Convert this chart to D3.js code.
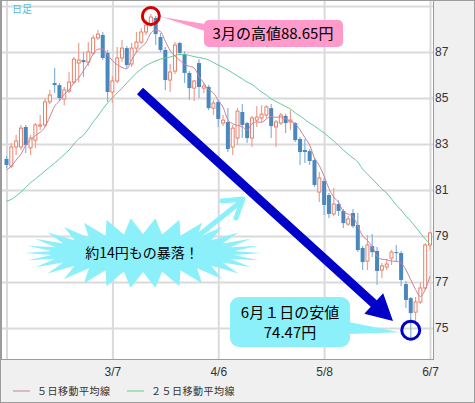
<!DOCTYPE html>
<html><head><meta charset="utf-8">
<script src="https://cdn.jsdelivr.net/npm/d3@7"></script>
<style>
html,body{margin:0;padding:0;background:#fff;}
svg{display:block;}
</style></head><body>
<svg id="chart" width="475" height="403"></svg>
<script>
// AUD/JPY daily candles, Feb 6 – Jun 7 2012
const dates = [
 "2012-02-06","2012-02-07","2012-02-08","2012-02-09","2012-02-10",
 "2012-02-13","2012-02-14","2012-02-15","2012-02-16","2012-02-17",
 "2012-02-20","2012-02-21","2012-02-22","2012-02-23","2012-02-24",
 "2012-02-27","2012-02-28","2012-02-29","2012-03-01","2012-03-02",
 "2012-03-05","2012-03-06","2012-03-07","2012-03-08","2012-03-09",
 "2012-03-12","2012-03-13","2012-03-14","2012-03-15","2012-03-16",
 "2012-03-19","2012-03-20","2012-03-21","2012-03-22","2012-03-23",
 "2012-03-26","2012-03-27","2012-03-28","2012-03-29","2012-03-30",
 "2012-04-02","2012-04-03","2012-04-04","2012-04-05","2012-04-06",
 "2012-04-09","2012-04-10","2012-04-11","2012-04-12","2012-04-13",
 "2012-04-16","2012-04-17","2012-04-18","2012-04-19","2012-04-20",
 "2012-04-23","2012-04-24","2012-04-25","2012-04-26","2012-04-27",
 "2012-04-30","2012-05-01","2012-05-02","2012-05-03","2012-05-04",
 "2012-05-07","2012-05-08","2012-05-09","2012-05-10","2012-05-11",
 "2012-05-14","2012-05-15","2012-05-16","2012-05-17","2012-05-18",
 "2012-05-21","2012-05-22","2012-05-23","2012-05-24","2012-05-25",
 "2012-05-28","2012-05-29","2012-05-30","2012-05-31","2012-06-01",
 "2012-06-04","2012-06-05","2012-06-06","2012-06-07"
];
const opens = [
 82.35,82.04,82.87,82.87,83.74,82.83,83.17,83.78,83.83,84.83,
 85.65,85.56,84.96,85.30,85.69,86.52,86.65,86.56,86.96,87.61,
 87.74,86.96,85.26,85.74,86.74,87.17,86.48,87.17,87.43,87.87,
 88.17,88.48,87.65,87.09,85.78,86.17,87.39,86.91,86.09,85.43,
 86.52,85.43,85.48,84.56,84.83,83.91,83.96,82.87,83.26,84.39,
 83.91,83.26,84.04,84.13,84.26,84.56,83.74,83.91,84.22,83.96,
 83.91,83.22,82.74,82.69,82.30,80.91,81.39,80.78,79.96,80.39,
 80.09,79.52,80.00,79.48,78.48,77.91,78.56,78.35,77.52,77.65,
 78.04,78.30,78.26,76.91,76.30,75.69,76.13,76.74,78.61
];
const highs = [
 82.48,83.04,83.39,83.83,83.83,83.39,83.91,84.26,85.00,85.35,
 86.30,85.65,85.48,86.13,86.78,87.39,87.00,87.43,87.74,87.96,
 87.87,87.09,85.96,87.22,87.52,87.26,87.39,87.87,88.04,88.39,
 88.65,88.56,87.83,87.22,86.48,87.43,87.43,87.04,86.17,85.78,
 86.69,85.65,85.56,84.91,84.91,84.26,84.56,83.83,84.56,84.74,
 83.96,84.22,84.65,84.69,84.69,84.74,84.04,84.35,84.30,84.48,
 83.96,83.30,83.22,82.78,82.39,81.78,81.52,80.87,81.09,80.56,
 80.17,79.87,80.17,80.00,78.56,79.04,79.09,78.52,77.83,78.00,
 78.39,78.61,78.35,77.04,76.35,76.35,76.96,78.69,79.17
];
const lows = [
 81.96,81.96,82.52,82.74,82.61,82.52,82.83,83.61,83.74,84.74,
 85.22,84.87,84.69,85.22,85.61,85.69,85.91,86.39,86.87,87.52,
 86.65,84.83,84.78,85.65,86.56,86.30,86.35,87.00,87.35,87.74,
 88.09,87.30,87.00,85.35,85.26,86.04,86.87,85.65,84.91,84.87,
 85.00,85.22,84.48,84.26,83.74,83.78,82.65,82.52,82.96,83.26,
 83.04,82.87,83.74,83.96,84.13,83.26,82.87,83.83,83.48,83.61,
 83.09,82.09,82.17,82.09,81.13,80.48,79.91,79.78,79.87,79.87,
 79.35,79.43,79.35,78.30,77.52,77.52,78.09,76.87,77.17,77.52,
 77.74,77.87,76.83,75.87,74.47,75.26,76.04,76.65,78.39
];
const closes = [
 82.09,82.87,83.13,83.69,82.96,83.26,83.83,83.83,84.83,85.13,
 85.56,85.00,85.35,85.69,86.69,86.65,86.56,87.00,87.61,87.78,
 86.74,85.26,85.74,86.74,87.17,86.43,87.17,87.43,87.87,88.17,
 88.52,87.78,87.09,85.78,86.13,87.30,86.96,86.09,85.43,85.74,
 85.48,85.52,84.56,84.78,84.09,84.04,82.78,83.69,84.43,83.83,
 83.26,84.13,84.17,84.30,84.61,83.78,83.96,84.26,83.91,84.04,
 83.17,82.65,82.65,82.26,81.22,81.52,80.35,79.96,80.39,80.09,
 79.56,79.74,79.43,78.39,77.87,78.61,78.30,77.48,77.70,77.78,
 78.30,78.26,77.09,76.22,75.65,76.13,76.74,78.61,79.13
];
// 5-day moving average
const ma5 = [
 81.87,82.04,82.30,82.56,82.95,83.18,83.37,83.51,83.74,84.18,
 84.64,84.87,85.17,85.35,85.66,85.88,86.19,86.52,86.90,87.12,
 87.14,86.88,86.63,86.45,86.33,86.27,86.65,86.99,87.21,87.41,
 87.83,87.95,87.89,87.47,87.06,86.82,86.65,86.45,86.38,86.30,
 85.94,85.65,85.35,85.22,84.89,84.60,84.05,83.88,83.81,83.75,
 83.60,83.87,83.96,83.94,84.09,84.20,84.16,84.18,84.10,83.99,
 83.87,83.61,83.28,82.95,82.39,82.06,81.60,81.06,80.69,80.46,
 80.07,79.95,79.84,79.44,79.00,78.81,78.52,78.13,77.99,77.97,
 77.91,77.90,77.83,77.53,77.10,76.67,76.37,76.67,77.25
];
// 25-day moving average
const ma25 = [
 80.52,80.59,80.74,80.91,81.11,81.32,81.48,81.65,81.83,82.00,
 82.17,82.35,82.54,82.74,83.00,83.22,83.39,83.65,83.96,84.22,
 84.52,84.78,85.00,85.22,85.43,85.65,85.87,86.09,86.26,86.41,
 86.52,86.61,86.69,86.74,86.78,86.85,86.89,86.89,86.85,86.80,
 86.76,86.72,86.65,86.54,86.43,86.33,86.22,86.09,85.96,85.83,
 85.69,85.59,85.43,85.26,85.13,84.96,84.85,84.74,84.63,84.52,
 84.35,84.22,84.06,83.91,83.78,83.63,83.48,83.30,83.13,82.93,
 82.74,82.56,82.39,82.22,81.91,81.69,81.48,81.26,81.04,80.87,
 80.61,80.35,80.13,79.87,79.65,79.39,79.13,78.87,78.65
];
const yTicks = [75, 77, 79, 81, 83, 85, 87, 89];
const yTickLabels = ["75", "77", "79", "81", "83", "85", "87", ""];
const xTickDates = ["2012-02-06", "2012-03-07", "2012-04-06", "2012-05-08", "2012-06-07"];
const xTickLabels = ["", "3/7", "4/6", "5/8", "6/7"];
const legendNames = ["５日移動平均線", "２５日移動平均線"];
const highIndex = 30, lowIndex = 84;

const W = 475, H = 403;
const plot = {left: 2, right: 433, top: 1, bottom: 359};
const colors = {
  up: "#e8806a", upWick: "#eea08f",
  down: "#4a87bd", downWick: "#86b3da",
  ma5: "#c9819c", ma25: "#62cc97",
  grid: "#dadada", frame: "#9c9c9c", panel: "#f0f0f0",
  pink: "#ff9acb", cyan: "#8cf0fb", navy: "#0000c8", red: "#d40000"
};
const jp = "'Noto Sans CJK JP','Noto Sans',sans-serif";
const latin = "'Liberation Sans',Arial,sans-serif";

const svg = d3.select("#chart");

const x = d3.scalePoint().domain(dates).range([6.5, 430]);
const y = d3.scaleLinear().domain([75, 87]).range([328, 52]);

// panel + plot background
svg.append("rect").attr("x", 0.5).attr("y", 0.5).attr("width", W - 1).attr("height", H - 1)
  .attr("fill", colors.panel).attr("stroke", colors.frame);
svg.append("rect").attr("x", plot.left).attr("y", plot.top)
  .attr("width", plot.right - plot.left).attr("height", plot.bottom - plot.top)
  .attr("fill", "#fff");

svg.append("defs").append("clipPath").attr("id", "plotClip")
  .append("rect").attr("x", plot.left).attr("y", plot.top)
  .attr("width", plot.right - plot.left).attr("height", plot.bottom - plot.top);

const g = svg.append("g").attr("clip-path", "url(#plotClip)");

// grid
const yAxisGrid = d3.axisRight(y).tickValues(yTicks).tickSize(plot.right - plot.left).tickFormat("");
g.append("g").attr("transform", `translate(${plot.left},0)`).call(yAxisGrid)
  .call(s => s.select(".domain").remove())
  .call(s => s.selectAll("line").attr("stroke", colors.grid).attr("stroke-width", 2));
const xAxisGrid = d3.axisBottom(x).tickValues(xTickDates).tickSize(plot.bottom - plot.top).tickFormat("");
g.append("g").attr("transform", `translate(0,${plot.top})`).call(xAxisGrid)
  .call(s => s.select(".domain").remove())
  .call(s => s.selectAll("line").attr("stroke", colors.grid).attr("stroke-width", 2));

// candles
const candles = dates.map((d, i) => ({d, o: opens[i], h: highs[i], l: lows[i], c: closes[i]}));
const cg = g.append("g");
cg.selectAll("line.wick").data(candles).join("line")
  .attr("class", "wick")
  .attr("x1", d => x(d.d)).attr("x2", d => x(d.d))
  .attr("y1", d => y(d.h)).attr("y2", d => y(d.l))
  .attr("stroke", d => d.c >= d.o ? colors.upWick : colors.downWick)
  .attr("stroke-width", 1.2);
cg.selectAll("rect.body").data(candles).join("rect")
  .attr("class", "body")
  .attr("x", d => d.c >= d.o ? x(d.d) - 1.5 : x(d.d) - 2)
  .attr("width", d => d.c >= d.o ? 3 : 4)
  .attr("y", d => y(Math.max(d.o, d.c)))
  .attr("height", d => Math.max(1, y(Math.min(d.o, d.c)) - y(Math.max(d.o, d.c))))
  .attr("fill", d => d.c >= d.o ? "#fff" : colors.down)
  .attr("stroke", d => d.c >= d.o ? colors.up : "none")
  .attr("stroke-width", 1);

// moving averages
const line = d3.line().x(d => x(d[0])).y(d => y(d[1])).curve(d3.curveMonotoneX);
g.append("path").datum(dates.map((d, i) => [d, ma25[i]]))
  .attr("d", line).attr("fill", "none").attr("stroke", colors.ma25).attr("stroke-width", 1);
g.append("path").datum(dates.map((d, i) => [d, ma5[i]]))
  .attr("d", line).attr("fill", "none").attr("stroke", colors.ma5).attr("stroke-width", 1);

// plot frame
svg.append("rect").attr("x", plot.left - 0.5).attr("y", plot.top - 0.5)
  .attr("width", plot.right - plot.left + 1).attr("height", plot.bottom - plot.top + 1)
  .attr("fill", "none").attr("stroke", colors.frame);

// axis labels
const yAxis = d3.axisRight(y).tickValues(yTicks).tickSize(0).tickPadding(2)
  .tickFormat((v, i) => yTickLabels[i]);
svg.append("g").attr("transform", `translate(${plot.right},0)`).call(yAxis)
  .call(s => s.select(".domain").remove())
  .call(s => s.selectAll("text").attr("font-family", latin).attr("font-size", 12).attr("fill", "#333"));
const xAxis = d3.axisBottom(x).tickValues(xTickDates).tickSize(0).tickPadding(8)
  .tickFormat((v, i) => xTickLabels[i]);
svg.append("g").attr("transform", `translate(0,${plot.bottom})`).call(xAxis)
  .call(s => s.select(".domain").remove())
  .call(s => s.selectAll("text").attr("font-family", latin).attr("font-size", 12).attr("fill", "#333"));

// period label
svg.append("text").attr("x", 12).attr("y", 13).text("日足")
  .attr("font-family", jp).attr("font-size", 10).attr("fill", "#55bde8");

// legend
const legendX = [13, 127];
[colors.ma5, colors.ma25].forEach((c, i) => {
  svg.append("line").attr("x1", legendX[i]).attr("x2", legendX[i] + 17)
    .attr("y1", 391).attr("y2", 391).attr("stroke", c).attr("stroke-width", 1);
  svg.append("text").attr("x", legendX[i] + 24).attr("y", 395).text(legendNames[i])
    .attr("font-family", jp).attr("font-size", 10).attr("letter-spacing", 0.5).attr("fill", "#333");
});

// --- annotations ---
const ann = svg.append("g");
const hx = x(dates[highIndex]), hy = y(highs[highIndex]);
const lx = x(dates[lowIndex]), ly = y(lows[lowIndex]);

// big downward arrow
const a0 = [140, 91], aTip = [393, 321];
const ang = Math.atan2(aTip[1] - a0[1], aTip[0] - a0[0]);
const u = [Math.cos(ang), Math.sin(ang)], n = [-Math.sin(ang), Math.cos(ang)];
const headLen = 26, headHalf = 14, shaftHalf = 4.5;
const base = [aTip[0] - headLen * u[0], aTip[1] - headLen * u[1]];
const arrowPts = [
  [a0[0] + shaftHalf * n[0], a0[1] + shaftHalf * n[1]],
  [base[0] + shaftHalf * n[0], base[1] + shaftHalf * n[1]],
  [base[0] + headHalf * n[0], base[1] + headHalf * n[1]],
  aTip,
  [base[0] - headHalf * n[0], base[1] - headHalf * n[1]],
  [base[0] - shaftHalf * n[0], base[1] - shaftHalf * n[1]],
  [a0[0] - shaftHalf * n[0], a0[1] - shaftHalf * n[1]]
];
ann.append("polygon").attr("points", arrowPts.map(p => p.join(",")).join(" ")).attr("fill", colors.navy);

// starburst
const bc = [143, 253];
const spikes = 30;
const burst = d3.range(spikes * 2).map(k => {
  const t = Math.PI * k / spikes;
  const outer = k % 2 === 0;
  const rx = outer ? 118 : 92, ry = outer ? 35 : 19;
  return [bc[0] + rx * Math.cos(t), bc[1] + ry * Math.sin(t)];
});
ann.append("polygon").attr("points", burst.map(p => p.join(",")).join(" ")).attr("fill", colors.cyan);
// small arrow out of the burst
ann.append("line").attr("x1", 198).attr("y1", 236).attr("x2", 238).attr("y2", 204)
  .attr("stroke", colors.cyan).attr("stroke-width", 5).attr("stroke-linecap", "round");
ann.append("polyline").attr("points", "222,201 243,199 236,218")
  .attr("fill", "none").attr("stroke", colors.cyan).attr("stroke-width", 5)
  .attr("stroke-linecap", "round").attr("stroke-linejoin", "round");
ann.append("text").attr("x", 142).attr("y", 258).attr("text-anchor", "middle")
  .text("約14円もの暴落！").attr("font-family", jp).attr("font-size", 14).attr("fill", "#000");

// high callout
ann.append("polygon").attr("points", `${hx + 11},${hy + 3} 205,24 205,31`).attr("fill", colors.pink);
ann.append("rect").attr("x", 204).attr("y", 20).attr("width", 139).attr("height", 27).attr("rx", 5)
  .attr("fill", colors.pink);
ann.append("text").attr("x", 273).attr("y", 39).attr("text-anchor", "middle")
  .text("3月の高値88.65円").attr("font-family", jp).attr("font-size", 15).attr("fill", "#000");
ann.append("circle").attr("cx", hx).attr("cy", hy + 2).attr("r", 8.5)
  .attr("fill", "none").attr("stroke", colors.red).attr("stroke-width", 3);

// low callout
ann.append("polygon").attr("points", `349,322 ${lx - 11},${ly - 8} 349,334`).attr("fill", colors.cyan);
ann.append("rect").attr("x", 230).attr("y", 297).attr("width", 120).attr("height", 50).attr("rx", 9)
  .attr("fill", colors.cyan);
ann.append("text").attr("x", 290).attr("y", 318).attr("text-anchor", "middle")
  .text("6月１日の安値").attr("font-family", jp).attr("font-size", 15).attr("fill", "#000");
ann.append("text").attr("x", 290).attr("y", 338).attr("text-anchor", "middle")
  .text("74.47円").attr("font-family", jp).attr("font-size", 15).attr("fill", "#000");
ann.append("circle").attr("cx", lx).attr("cy", ly - 10).attr("r", 9)
  .attr("fill", "none").attr("stroke", colors.navy).attr("stroke-width", 3);
</script>
</body></html>
